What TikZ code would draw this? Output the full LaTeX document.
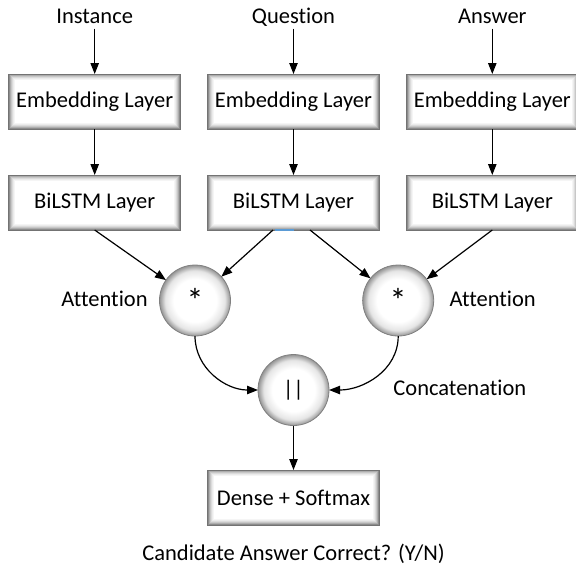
\documentclass[tikz,border=0pt]{standalone}
\usepackage{fontspec}
\setmainfont[Ligatures=NoCommon]{Carlito}
\usetikzlibrary{arrows.meta, positioning, calc}

\definecolor{selblue}{HTML}{5B9BD5}
% white disc that darkens towards its rim
\pgfdeclareradialshading{bulb}{\pgfpoint{0bp}{0bp}}{color(0bp)=(white); color(15bp)=(white); color(21bp)=(black!10); color(25bp)=(black!42); color(50bp)=(black!42)}
\newcommand{\bigstar}{{\fontsize{17}{17}\selectfont\raisebox{-0.12em}{*}}}

\begin{document}
\begin{tikzpicture}[
      node distance=23pt and 13.4pt,
      font=\fontsize{11.25}{13.5}\selectfont,
      box/.style={draw=black!55, fill=white, line width=0.5pt, minimum width=86pt, minimum height=27.5pt, inner sep=0pt, outer sep=0pt,
        path picture={\foreach \d/\c in {0.4/45,0.9/32,1.4/22,1.9/14,2.4/8,2.9/4}
          \draw[black!\c, line width=0.55pt] ([shift={(\d pt,\d pt)}]path picture bounding box.south west) rectangle ([shift={(-\d pt,-\d pt)}]path picture bounding box.north east);}},
      op/.style={circle, draw=black!50, line width=0.4pt, shade, shading=bulb, minimum size=35.5pt, inner sep=0pt, outer sep=0pt},
      lbl/.style={inner sep=1pt, text height=1.5ex, text depth=.25ex},
      ar/.style={-{Triangle[length=5.5pt, width=4.2pt]}, line width=0.6pt}
    ]
    \path[use as bounding box] (0,0) rectangle (288pt,-282pt);
    % three input columns
    \node[box] (iemb) at (47.35pt,-50.75pt) {Embedding Layer};
    \node[box, right=of iemb] (qemb) {Embedding Layer};
    \node[box, right=of qemb] (aemb) {Embedding Layer};
    \node[lbl, above=22.75pt of iemb] (inst) {Instance};
    \node[lbl, above=22.75pt of qemb] (ques) {Question};
    \node[lbl, above=22.75pt of aemb] (answ) {Answer};
    \node[box, below=of iemb] (ibil) {BiLSTM Layer};
    \node[box, below=of qemb] (qbil) {BiLSTM Layer};
    \node[box, below=of aemb] (abil) {BiLSTM Layer};
    \draw[selblue, line width=1pt] ([xshift=-9.25pt]qbil.south) -- (qbil.south);
    % attention and merge
    \node[op] (att1) at ($(qbil.south)+(-49.25pt,-35.25pt)$) {\bigstar};
    \node[op] (att2) at ($(qbil.south)+(52.35pt,-35.25pt)$) {\bigstar};
    \node[op, below=62.25pt of qbil] (cat) {||};
    \node[lbl, left=4.75pt of att1] (att1lbl) {Attention};
    \node[lbl, right=6.75pt of att2] (att2lbl) {Attention};
    \node[lbl, right=31pt of cat] (catlbl) {Concatenation};
    \node[box, below=22.25pt of cat] (dense) {Dense + Softmax};
    \node[lbl, below=9.15pt of dense] (out) {Candidate Answer Correct? (Y/N)};
    \draw[ar] (inst) -- (iemb); \draw[ar] (ques) -- (qemb); \draw[ar] (answ) -- (aemb);
    \draw[ar] (iemb) -- (ibil); \draw[ar] (qemb) -- (qbil); \draw[ar] (aemb) -- (abil);
    \draw[ar] (ibil.south) -- (att1); \draw[ar] ([xshift=-10.25pt]qbil.south) -- (att1);
    \draw[ar] ([xshift=8.25pt]qbil.south) -- (att2); \draw[ar] (abil.south) -- (att2);
    \draw[ar] (att1.south) to[out=-90, in=180] (cat.west);
    \draw[ar] (att2.south) to[out=-90, in=0] (cat.east);
    \draw[ar] (cat) -- (dense);
  \end{tikzpicture}
\end{document}
